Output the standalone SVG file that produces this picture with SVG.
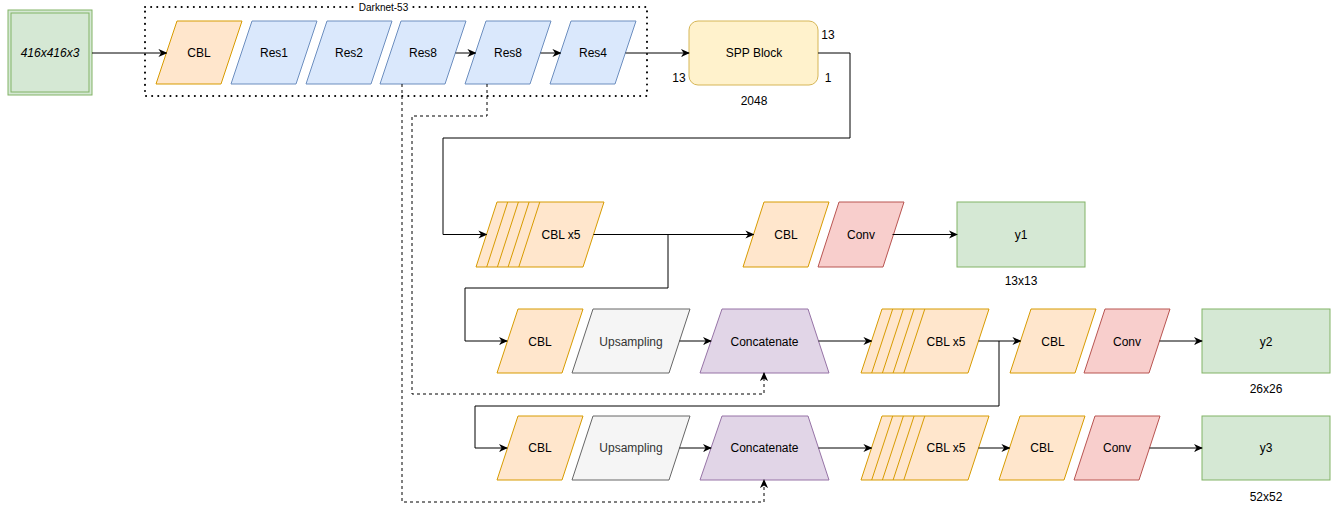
<svg xmlns="http://www.w3.org/2000/svg" width="1336" height="509" viewBox="0 0 1336 509">
<defs>
<marker id="arr" viewBox="0 0 10 10" refX="9" refY="5" markerWidth="9" markerHeight="9" markerUnits="userSpaceOnUse" orient="auto">
<path d="M0,0.5 L10,5 L0,9.5 L3,5 Z" fill="#000"/>
</marker>
<style>
text{font-family:"Liberation Sans",Arial,sans-serif;font-size:12px;fill:#000;text-anchor:middle;dominant-baseline:central}
.cbl{fill:#ffe6cc;stroke:#d79b00;stroke-width:1}
.res{fill:#dae8fc;stroke:#6c8ebf;stroke-width:1}
.conv{fill:#f8cecc;stroke:#b85450;stroke-width:1}
.up{fill:#f5f5f5;stroke:#666666;stroke-width:1}
.cat{fill:#e1d5e7;stroke:#9673a6;stroke-width:1}
.out{fill:#d5e8d4;stroke:#82b366;stroke-width:1}
.spp{fill:#fff2cc;stroke:#d6b656;stroke-width:1}
.ln{fill:none;stroke:#d79b00;stroke-width:1}
.c{fill:none;stroke:#000;stroke-width:1}
.a{marker-end:url(#arr)}
.d{fill:none;stroke:#000;stroke-width:1;stroke-dasharray:3 3}
</style>
</defs>

<g id="darknet">
<rect x="145" y="7" width="502" height="89" fill="none" stroke="#000" stroke-width="2" stroke-dasharray="0.1 6" stroke-linecap="round"/>
<rect x="355" y="1" width="57" height="12" fill="#fff"/>
<text x="383.5" y="7" style="font-size:10px">Darknet-53</text>
</g>

<g id="input">
<rect x="8" y="10" width="84" height="85" class="out"/>
<rect x="11" y="13" width="78" height="79" fill="none" stroke="#82b366" stroke-width="1"/>
<text x="50" y="53" font-style="italic">416x416x3</text>
</g>

<g id="cbl0"><polygon class="cbl" points="177,21 242,21 221,84 156,84"/><text x="199" y="53">CBL</text></g>
<g id="res1"><polygon class="res" points="252,21 317,21 296,84 231,84"/><text x="274" y="53">Res1</text></g>
<g id="res2"><polygon class="res" points="327,21 392,21 371,84 306,84"/><text x="349" y="53">Res2</text></g>
<g id="res8a"><polygon class="res" points="401,21 466,21 445,84 380,84"/><text x="423" y="53">Res8</text></g>
<g id="res8b"><polygon class="res" points="486,21 551,21 530,84 465,84"/><text x="508" y="53">Res8</text></g>
<g id="res4"><polygon class="res" points="571,21 636,21 615,84 550,84"/><text x="593" y="53">Res4</text></g>

<g id="spp">
<rect x="689" y="21" width="129" height="64" rx="9" class="spp"/>
<text x="754" y="53">SPP Block</text>
<text x="828" y="35">13</text>
<text x="679" y="78">13</text>
<text x="828" y="78">1</text>
<text x="754" y="101">2048</text>
</g>

<!-- row 1 -->
<g id="cblx5_1">
<polygon class="cbl" points="497,202 604,202 583,267 476,267"/>
<path class="ln" d="M507.7,202 L486.7,267 M518.4,202 L497.4,267 M529.1,202 L508.1,267 M539.8,202 L518.8,267"/>
<text x="561" y="235">CBL x5</text>
</g>
<g id="cbl_1"><polygon class="cbl" points="764,202 829,202 808,267 743,267"/><text x="786" y="235">CBL</text></g>
<g id="conv_1"><polygon class="conv" points="839,202 904,202 883,267 818,267"/><text x="861" y="235">Conv</text></g>
<g id="y1"><rect x="957" y="202" width="128" height="65" class="out"/><text x="1021" y="235">y1</text><text x="1021" y="281">13x13</text></g>

<!-- row 2 -->
<g id="cbl_2a"><polygon class="cbl" points="518,309 583,309 562,373 497,373"/><text x="540" y="342">CBL</text></g>
<g id="up_2"><polygon class="up" points="593,309 690,309 669,373 572,373"/><text x="631" y="342" style="fill:#333">Upsampling</text></g>
<g id="cat_2"><polygon class="cat" points="722,309 808,309 829,373 700,373"/><text x="764.5" y="342">Concatenate</text></g>
<g id="cblx5_2">
<polygon class="cbl" points="882,309 989,309 968,373 861,373"/>
<path class="ln" d="M892.7,309 L871.7,373 M903.4,309 L882.4,373 M914.1,309 L893.1,373 M924.8,309 L903.8,373"/>
<text x="946" y="342">CBL x5</text>
</g>
<g id="cbl_2b"><polygon class="cbl" points="1031,309 1096,309 1075,373 1010,373"/><text x="1053" y="342">CBL</text></g>
<g id="conv_2"><polygon class="conv" points="1105,309 1170,309 1149,373 1084,373"/><text x="1127" y="342">Conv</text></g>
<g id="y2"><rect x="1202" y="309" width="128" height="64" class="out"/><text x="1266" y="342">y2</text><text x="1266" y="389">26x26</text></g>

<!-- row 3 -->
<g id="cbl_3a"><polygon class="cbl" points="518,416 583,416 562,480 497,480"/><text x="540" y="448">CBL</text></g>
<g id="up_3"><polygon class="up" points="593,416 690,416 669,480 572,480"/><text x="631" y="448" style="fill:#333">Upsampling</text></g>
<g id="cat_3"><polygon class="cat" points="722,416 808,416 829,480 700,480"/><text x="764.5" y="448">Concatenate</text></g>
<g id="cblx5_3">
<polygon class="cbl" points="882,416 989,416 968,480 861,480"/>
<path class="ln" d="M892.7,416 L871.7,480 M903.4,416 L882.4,480 M914.1,416 L893.1,480 M924.8,416 L903.8,480"/>
<text x="946" y="448">CBL x5</text>
</g>
<g id="cbl_3b"><polygon class="cbl" points="1020,416 1085,416 1064,480 999,480"/><text x="1042" y="448">CBL</text></g>
<g id="conv_3"><polygon class="conv" points="1095,416 1160,416 1139,480 1074,480"/><text x="1117" y="448">Conv</text></g>
<g id="y3"><rect x="1202" y="416" width="128" height="64" class="out"/><text x="1266" y="448">y3</text><text x="1266" y="497">52x52</text></g>

<g id="connectors">
<path class="c a" d="M92,53 L166.5,53"/>
<path class="c a" d="M455.5,53 L475.5,53"/>
<path class="c a" d="M540.5,53 L560.5,53"/>
<path class="c a" d="M625.5,53 L689,53"/>
<path class="c a" d="M818,53 L850,53 L850,138 L443,138 L443,234.5 L486.5,234.5"/>
<path class="c a" d="M593.5,234.5 L753.5,234.5"/>
<path class="c a" d="M668,234.5 L668,288 L465,288 L465,341 L507,341"/>
<path class="c a" d="M892.5,234.5 L957,234.5"/>
<path class="c a" d="M679.5,341 L711,341"/>
<path class="c a" d="M818.5,341 L871.5,341"/>
<path class="c a" d="M978.5,341 L1020.5,341"/>
<path class="c a" d="M999,341 L999,406 L475,406 L475,448 L507,448"/>
<path class="c a" d="M1159.5,341 L1202,341"/>
<path class="c a" d="M679.5,448 L711,448"/>
<path class="c a" d="M818.5,448 L871.5,448"/>
<path class="c a" d="M978.5,448 L1009.5,448"/>
<path class="c a" d="M1149.5,448 L1202,448"/>
<path class="d a" d="M402,84 L402,502 L764,502 L764,480"/>
<path class="d a" d="M487,84 L487,116 L412,116 L412,394 L764,394 L764,373"/>
</g>
</svg>
